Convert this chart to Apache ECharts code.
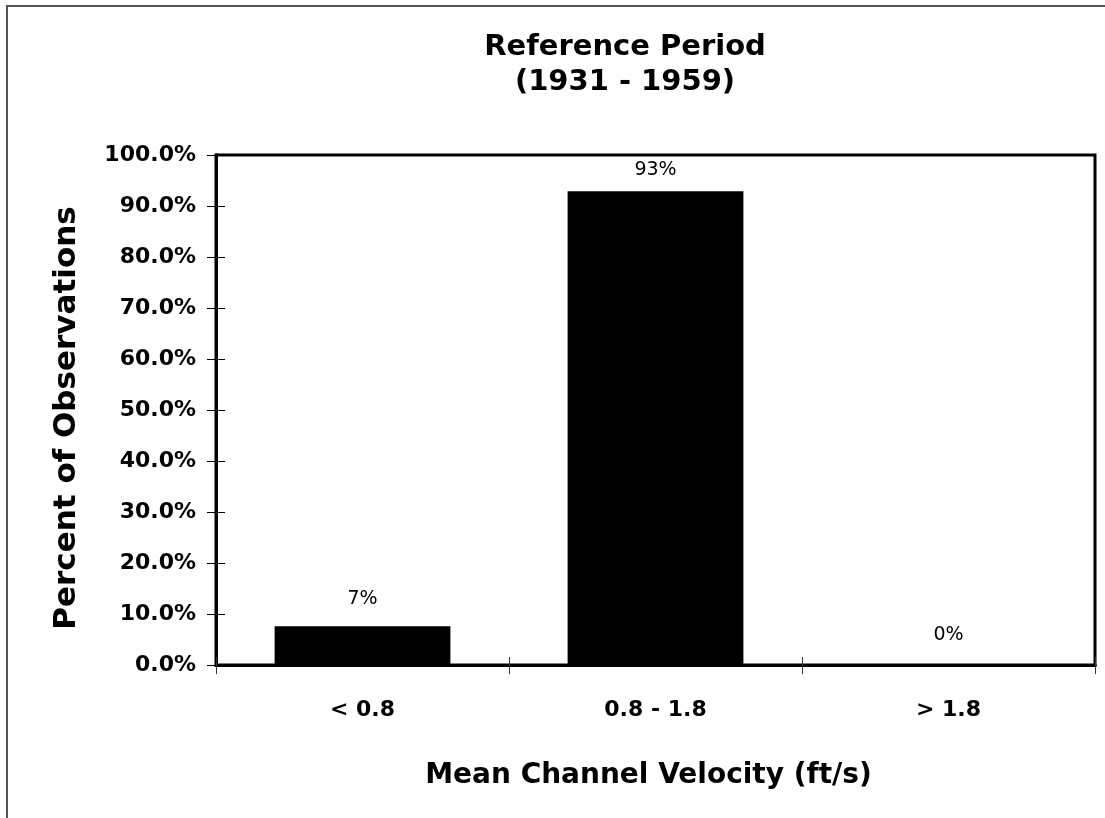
<!DOCTYPE html>
<html>
<head>
<meta charset="utf-8">
<script src="https://cdn.jsdelivr.net/npm/echarts@6/dist/echarts.min.js"></script>
<style>
html,body{margin:0;padding:0;background:#fff;}
#chart{width:1105px;height:818px;}
</style>
</head>
<body>
<div id="chart"></div>
<script>
const categories = ['< 0.8', '0.8 - 1.8', '> 1.8'];
const percentValues = [7.6, 92.9, 0];
const valueLabels = ['7%', '93%', '0%'];
const yTickLabels = ['0.0%','10.0%','20.0%','30.0%','40.0%','50.0%','60.0%','70.0%','80.0%','90.0%','100.0%'];

const labelGaps = [18, 12, 20];
const FONT = 'DejaVu Sans';

const chart = echarts.init(document.getElementById('chart'), null, {renderer: 'canvas'});
const yBase = {
  type: 'value', min: 0, max: 100, interval: 10, position: 'left',
  splitLine: {show: false},
  axisLine: {show: true, lineStyle: {color: '#000', width: 3}}
};
const xBase = {
  type: 'category', data: categories, position: 'bottom',
  axisLine: {show: true, lineStyle: {color: '#000', width: 3}},
  splitLine: {show: false}
};
chart.setOption({
  animation: false,
  backgroundColor: '#fff',
  title: {
    text: 'Reference Period\n(1931 - 1959)',
    left: 620, top: 25, textAlign: 'center',
    textStyle: {fontFamily: FONT, fontWeight: 'bold', fontSize: 29, lineHeight: 35, color: '#000'}
  },
  graphic: [{
    type: 'rect', silent: true, z: -1,
    shape: {x: 7, y: 6, width: 1200, height: 1000},
    style: {fill: 'none', stroke: '#555', lineWidth: 2}
  }],
  grid: {
    left: 216, top: 155, right: 10, bottom: 153,
    show: true, borderColor: '#000', borderWidth: 3, backgroundColor: 'transparent'
  },
  xAxis: [
    Object.assign({}, xBase, {
      axisTick: {show: true, inside: false, length: 9, lineStyle: {color: '#333', width: 1}},
      axisLabel: {margin: 34, fontFamily: FONT, fontWeight: 'bold', fontSize: 22, color: '#000'},
      name: 'Mean Channel Velocity (ft/s)', nameLocation: 'middle', nameGap: 97,
      nameTextStyle: {fontFamily: FONT, fontWeight: 'bold', fontSize: 28, color: '#000', padding: [0, 14, 0, 0]}
    }),
    Object.assign({}, xBase, {
      axisTick: {show: true, inside: true, length: 8, lineStyle: {color: '#333', width: 1}},
      axisLabel: {show: false}
    })
  ],
  yAxis: [
    Object.assign({}, yBase, {
      axisTick: {show: true, inside: false, length: 9, lineStyle: {color: '#000', width: 1}},
      axisLabel: {
        margin: 20, fontFamily: FONT, fontWeight: 'bold', fontSize: 22, color: '#000',
        formatter: function (v) { return yTickLabels[Math.round(v / 10)]; }
      },
      name: 'Percent of Observations', nameLocation: 'middle', nameGap: 134, nameRotate: 90,
      nameTextStyle: {fontFamily: FONT, fontWeight: 'bold', fontSize: 31, color: '#000', padding: [0, 16, 0, 0]}
    }),
    Object.assign({}, yBase, {
      axisTick: {show: true, inside: true, length: 9, lineStyle: {color: '#000', width: 1}},
      axisLabel: {show: false}
    })
  ],
  series: [{
    type: 'bar',
    xAxisIndex: 0, yAxisIndex: 0,
    barCategoryGap: '40%',
    itemStyle: {color: '#000'},
    data: percentValues.map(function (v, i) {
      return {
        value: v,
        label: {
          show: true, position: 'top', distance: labelGaps[i],
          formatter: valueLabels[i],
          fontFamily: FONT, fontWeight: 'normal', fontSize: 19, color: '#000'
        }
      };
    })
  }]
});
</script>
</body>
</html>
